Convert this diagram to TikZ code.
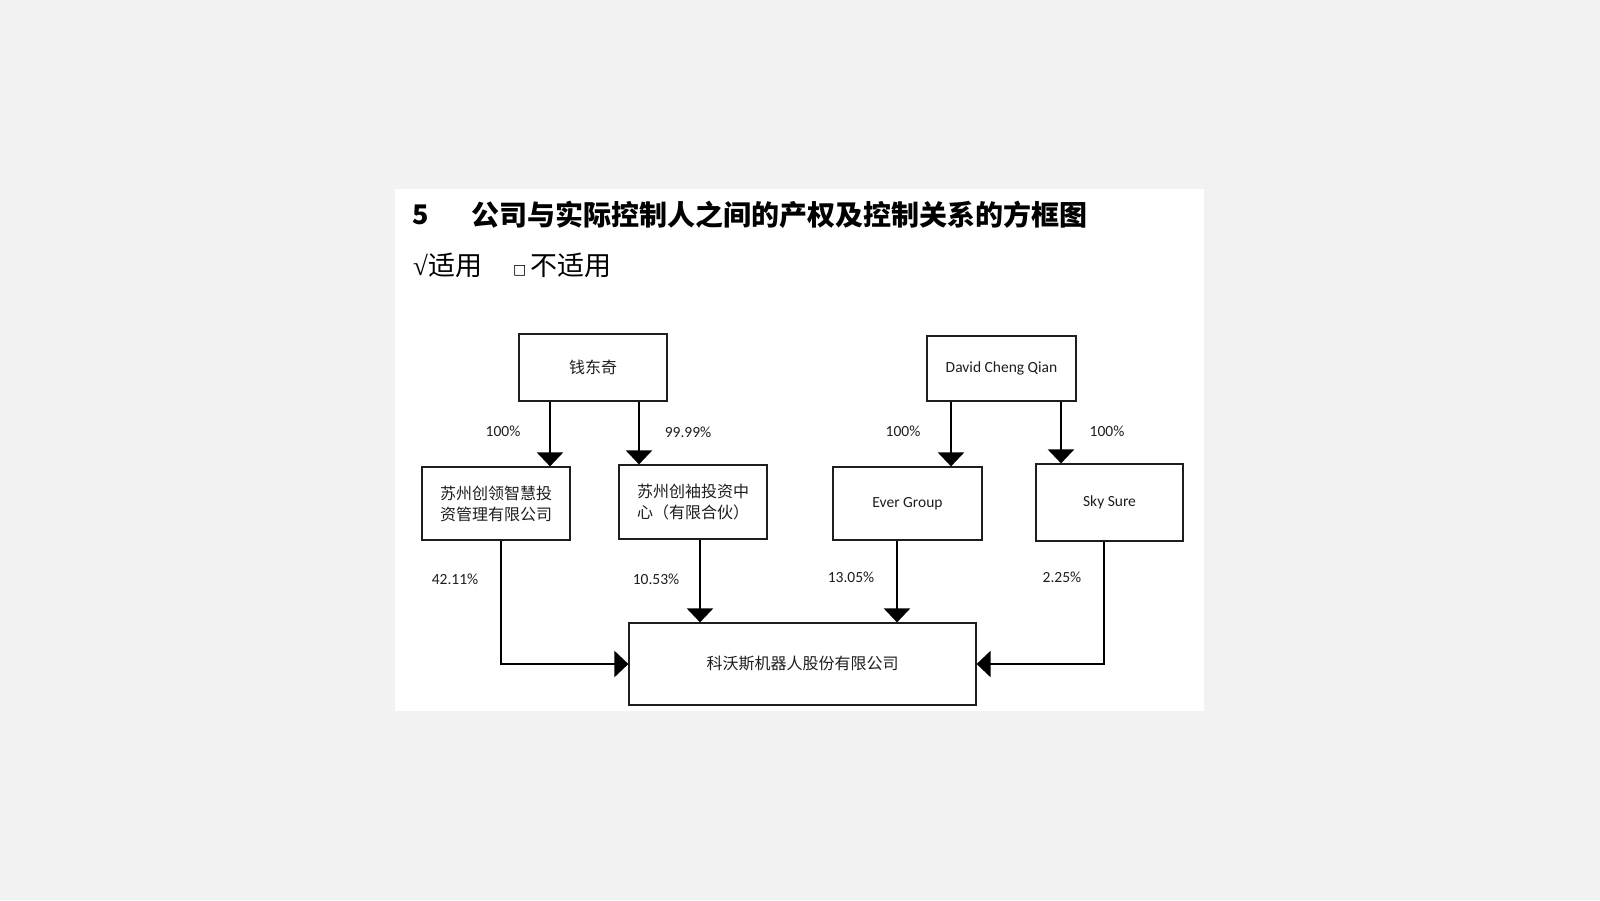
\documentclass[tikz,border=0pt]{standalone}
\usepackage{fontspec}
\setmainfont{Carlito}
\newfontfamily\cjk{Noto Sans CJK SC}
\newfontfamily\dejavu{DejaVu Sans}
\newfontfamily\libserif{Liberation Serif}
\usetikzlibrary{arrows.meta}
\definecolor{bggray}{RGB}{242,242,242}
\definecolor{ink}{RGB}{30,30,30}
\tikzset{
  entity/.style={draw=ink, line width=1.2pt, fill=white, inner sep=0pt, text=ink,
    font=\cjk\fontsize{16}{21}\selectfont, align=left},
  latinbox/.style={entity, font=\fontsize{15.5}{19}\selectfont},
  pct/.style={text=ink, inner sep=0pt, font=\fontsize{15.5}{19}\selectfont},
  arr/.style={draw=black, line width=2.4pt, -{Triangle[width=26pt,length=14pt]}},
}
\begin{document}
\begin{tikzpicture}[x=1pt,y=-1pt]
\useasboundingbox[fill=bggray] (0,0) rectangle (1600,900);
\fill[white] (395,189) rectangle (1204,711);
% headings
\node[anchor=west, inner sep=0pt, text=black, font=\cjk\bfseries\fontsize{27}{30}\selectfont] (num) at (412,215) {5};
\node[anchor=west, inner sep=0pt, text=black, font=\cjk\bfseries\fontsize{28}{30}\selectfont] (title) at (471,215) {公司与实际控制人之间的产权及控制关系的方框图};
\node[anchor=west, inner sep=0pt, text=black, font=\cjk\fontsize{27}{30}\selectfont] (yes) at (413,265) {{\libserif √}适用};
\node[anchor=base west, inner sep=0pt, text=black, font=\dejavu\fontsize{14}{16}\selectfont] (box) at (513,274) {□};
\node[anchor=west, inner sep=0pt, text=black, font=\cjk\fontsize{27}{30}\selectfont] (no) at (530,265) {不适用};
% entities
\node[entity, minimum width=148pt, minimum height=67pt] (qdq) at (593,367.5) {钱东奇};
\node[entity, minimum width=148pt, minimum height=73pt] (sl) at (496,503.5) {苏州创领智慧投\\资管理有限公司};
\node[entity, minimum width=148pt, minimum height=74pt] (sx) at (693,502) {苏州创袖投资中\\心（有限合伙）};
\node[latinbox, minimum width=149pt, minimum height=65pt] (dcq) at (1001.5,368.5) {David Cheng Qian};
\node[latinbox, minimum width=149pt, minimum height=73pt] (eg) at (907.5,503.5) {Ever Group};
\node[latinbox, minimum width=147pt, minimum height=77pt] (ss) at (1109.5,502.5) {Sky Sure};
\node[entity, minimum width=347pt, minimum height=82pt] (kws) at (802.5,664) {科沃斯机器人股份有限公司};
% connectors
\draw[arr] ([xshift=-43pt]qdq.south) -- ([xshift=-43pt]qdq.south |- sl.north);
\draw[arr] ([xshift=46pt]qdq.south) -- ([xshift=46pt]qdq.south |- sx.north);
\draw[arr] ([xshift=-50.5pt]dcq.south) -- ([xshift=-50.5pt]dcq.south |- eg.north);
\draw[arr] ([xshift=59.5pt]dcq.south) -- ([xshift=59.5pt]dcq.south |- ss.north);
\draw[arr] ([xshift=5pt]sl.south) |- (kws.west);
\draw[arr] ([xshift=7pt]sx.south) -- ([xshift=7pt]sx.south |- kws.north);
\draw[arr] ([xshift=-10.5pt]eg.south) -- ([xshift=-10.5pt]eg.south |- kws.north);
\draw[arr] ([xshift=-5.5pt]ss.south) |- (kws.east);
% labels
\node[pct] (p1) at (503,431) {100\%};
\node[pct] (p2) at (688,432) {99.99\%};
\node[pct] (p3) at (903,431) {100\%};
\node[pct] (p4) at (1107,431) {100\%};
\node[pct] (p5) at (455,579) {42.11\%};
\node[pct] (p6) at (656,579) {10.53\%};
\node[pct] (p7) at (851,577) {13.05\%};
\node[pct] (p8) at (1062,577) {2.25\%};
\end{tikzpicture}
\end{document}
